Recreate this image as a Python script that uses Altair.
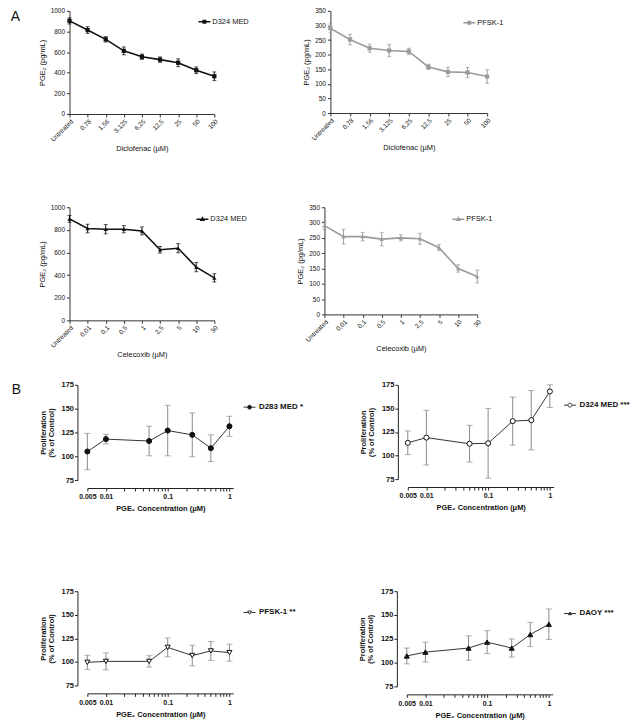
import altair as alt
import pandas as pd

FONT = "Liberation Sans"

# ---------------- Panel A data ----------------
dic_doses = ["Untreated", "0,78", "1,56", "3,125", "6,25", "12,5", "25", "50", "100"]
dic_d324_mean = [903, 814, 724, 612, 555, 527, 497, 424, 366]
dic_d324_err = [30, 32, 26, 38, 26, 26, 38, 32, 42]
dic_pfsk_mean = [290, 252, 222, 214, 211, 158, 141, 139, 125]
dic_pfsk_err = [15, 18, 14, 21, 11, 9, 16, 17, 23]

cel_doses = ["Untreated", "0,01", "0,1", "0,5", "1", "2,5", "5", "10", "30"]
cel_d324_mean = [897, 812, 806, 806, 791, 624, 638, 471, 376]
cel_d324_err = [30, 38, 41, 32, 35, 29, 40, 41, 37]
cel_pfsk_mean = [290, 254, 254, 246, 250, 247, 218, 150, 124]
cel_pfsk_err = [13, 24, 14, 22, 10, 18, 10, 12, 21]

# ---------------- Panel B data ----------------
pge_conc = [0.005, 0.01, 0.05, 0.1, 0.25, 0.5, 1]
d283_mean = [105, 118, 116, 127, 122.5, 108.5, 131.5]
d283_err = [19, 5, 15.5, 26.5, 23, 14, 10.5]
d324_mean = [113.5, 119, 112.5, 113, 136.5, 137.5, 168]
d324_err = [12.5, 29, 19.5, 37, 25.5, 31.5, 17]
pfsk_mean = [99.5, 100.5, 100.5, 115.4, 106.7, 111.6, 109.8]
pfsk_err = [7.5, 9, 6, 10, 11, 10, 9]
daoy_mean = [107, 111, 115.3, 121.5, 115.3, 129.5, 140.3]
daoy_err = [8.3, 10.4, 12.8, 12, 9.5, 12.7, 16]

# ---------------- tick lists ----------------
A_Y_D324 = [0, 200, 400, 600, 800, 1000]
A_Y_PFSK = [0, 50, 100, 150, 200, 250, 300, 350]
B_Y = [75, 100, 125, 150, 175]
B_MAJOR = [0.005, 0.01, 0.1, 1]
B_MINOR = [0.02, 0.03, 0.04, 0.05, 0.06, 0.07, 0.08, 0.09,
           0.2, 0.3, 0.4, 0.5, 0.6, 0.7, 0.8, 0.9]

BLACK = "#111111"
GRAY = "#9a9a9a"

SQ_PATH = "M-1,0L1,0M-0.2,-0.2L0.2,-0.2L0.2,0.2L-0.2,0.2Z"
TRI_PATH = "M-1,0L1,0M-0.25,0.2L0,-0.25L0.25,0.2Z"
CIRC_PATH = "M-1,0L-0.33,0M0.33,0L1,0M0.33,0A0.33,0.33,0,1,1,-0.33,0A0.33,0.33,0,1,1,0.33,0Z"
TRI_DOWN_PATH = "M-1,0L-0.3,0M0.3,0L1,0M-0.32,-0.25L0.32,-0.25L0,0.3Z"


def frame(x, mean, err, label):
    return pd.DataFrame({
        "x": x,
        "mean": mean,
        "lo": [m - e for m, e in zip(mean, err)],
        "hi": [m + e for m, e in zip(mean, err)],
        "series": [label] * len(x),
    })


def panel_a(doses, mean, err, label, color, shape, path, xtitle, yvals, w, h, lx, ly):
    df = frame(doses, mean, err, label)
    xenc = alt.X("x:N", sort=doses, scale=alt.Scale(type="point", padding=0),
                 axis=alt.Axis(title=xtitle, labelAngle=-45, labelAlign="right", labelBaseline="top",
                               labelFont=FONT, labelFontSize=6.5, labelColor=BLACK, labelPadding=1,
                               titleFont=FONT, titleFontSize=7.5, titleFontWeight="normal",
                               titleColor=BLACK, titlePadding=2, tickSize=3, domainColor="#333333",
                               tickColor="#333333", labelOverlap=False, grid=False))
    yscale = alt.Scale(domain=[0, yvals[-1]], nice=False)
    yaxis = alt.Axis(title="PGE₂ (pg/mL)", values=yvals, format="d", labelFont=FONT,
                     labelFontSize=6.5, labelColor=BLACK, labelPadding=2, titleFont=FONT,
                     titleFontSize=7.5, titleFontWeight="normal", titleColor=BLACK, titlePadding=4,
                     tickSize=3, domainColor="#333333", tickColor="#333333", grid=False)
    legend = alt.Legend(orient="none", legendX=lx, legendY=ly, title=None, symbolType=path,
                        symbolSize=144, symbolStrokeColor=color, symbolFillColor=color,
                        symbolStrokeWidth=1.5, labelFont=FONT, labelFontSize=7.5,
                        labelColor=BLACK, labelOffset=1, padding=0)
    bars = alt.Chart(df).mark_errorbar(ticks=True, size=4, thickness=1, color=color).encode(
        x=xenc, y=alt.Y("lo:Q", scale=yscale, axis=yaxis), y2="hi:Q")
    line = alt.Chart(df).mark_line(strokeWidth=1.6).encode(
        x=xenc, y=alt.Y("mean:Q", scale=yscale, axis=yaxis),
        color=alt.Color("series:N", scale=alt.Scale(range=[color]), legend=legend))
    pts = alt.Chart(df).mark_point(shape=shape, filled=True, size=18, color=color, opacity=1).encode(
        x=xenc, y=alt.Y("mean:Q", scale=yscale, axis=yaxis))
    return alt.layer(bars, line, pts).properties(width=w, height=h)


B_LEFT = 18   # gap between the view edge and the first concentration
B_W = 147     # length of the log axis


def panel_b(mean, err, label, shape, filled, path, h, lx, ly):
    df = frame(pge_conc, mean, err, label)
    tick_vals = sorted(B_MAJOR + B_MINOR)
    major = ",".join(str(v) for v in B_MAJOR)
    xenc = alt.X("x:Q", scale=alt.Scale(type="log", domain=[0.005, 1.15], nice=False,
                                        range=[B_LEFT, B_LEFT + B_W]),
                 axis=alt.Axis(title="PGE₂ Concentration (μM)", values=tick_vals, format="~g",
                               labelExpr=f"indexof([{major}], datum.value) >= 0 ? datum.label : ''",
                               labelFont=FONT, labelFontSize=7, labelFontWeight="bold",
                               labelColor=BLACK, labelOverlap=False, labelFlush=False, labelPadding=2,
                               titleFont=FONT, titleFontSize=7.5, titleFontWeight="bold",
                               titleColor=BLACK, titlePadding=5, tickSize=3, offset=8,
                               domainColor="#222222", tickColor="#222222", grid=False))
    yscale = alt.Scale(domain=[75, 175], nice=False, clamp=True)
    yaxis = alt.Axis(title=["Proliferation", "(% of Control)"], values=B_Y, labelFont=FONT,
                     labelFontSize=7.5, labelFontWeight="bold", labelColor=BLACK, labelPadding=1,
                     titleFont=FONT, titleFontSize=7.5, titleFontWeight="bold", titleColor=BLACK,
                     titlePadding=6, titleLineHeight=8, tickSize=3, offset=-8,
                     domainColor="#222222", tickColor="#222222", grid=False)
    fill = BLACK if filled else "white"
    legend = alt.Legend(orient="none", legendX=lx + B_LEFT, legendY=ly, title=None, symbolType=path,
                        symbolSize=144, symbolStrokeColor="#333333", symbolFillColor=fill,
                        symbolStrokeWidth=1, labelFont=FONT, labelFontSize=8, labelFontWeight="bold",
                        labelColor=BLACK, labelOffset=3, padding=0)
    bars = alt.Chart(df).mark_errorbar(ticks=True, size=6, thickness=1, color="#8a8a8a").encode(
        x=xenc, y=alt.Y("lo:Q", scale=yscale, axis=yaxis), y2="hi:Q")
    line = alt.Chart(df).mark_line(strokeWidth=1).encode(
        x=xenc, y=alt.Y("mean:Q", scale=yscale, axis=yaxis),
        color=alt.Color("series:N", scale=alt.Scale(range=["#333333"]), legend=legend))
    pts = alt.Chart(df).mark_point(shape=shape, filled=True, fill=fill, stroke=BLACK,
                                   strokeWidth=1, size=26, opacity=1).encode(
        x=xenc, y=alt.Y("mean:Q", scale=yscale, axis=yaxis))
    return alt.layer(bars, line, pts).properties(width=B_LEFT + B_W, height=h)


a1l = panel_a(dic_doses, dic_d324_mean, dic_d324_err, "D324 MED", BLACK, "square", SQ_PATH,
              "Diclofenac (µM)", A_Y_D324, 146, 104, 129, 4)
a1r = panel_a(dic_doses, dic_pfsk_mean, dic_pfsk_err, "PFSK-1", GRAY, "square", SQ_PATH,
              "Diclofenac (µM)", A_Y_PFSK, 158, 103, 133, 5)
a2l = panel_a(cel_doses, cel_d324_mean, cel_d324_err, "D324 MED", BLACK, "triangle-up", TRI_PATH,
              "Celecoxib (µM)", A_Y_D324, 146, 114, 127, 5)
a2r = panel_a(cel_doses, cel_pfsk_mean, cel_pfsk_err, "PFSK-1", GRAY, "triangle-up", TRI_PATH,
              "Celecoxib (µM)", A_Y_PFSK, 154, 108, 128, 5)

b1l = panel_b(d283_mean, d283_err, "D283 MED *", "circle", True, CIRC_PATH, 96, 157, 16)
b1r = panel_b(d324_mean, d324_err, "D324 MED ***", "circle", False, CIRC_PATH, 95, 157, 14)
b2l = panel_b(pfsk_mean, pfsk_err, "PFSK-1 **", "triangle-down", False, TRI_DOWN_PATH, 95, 157, 15)
b2r = panel_b(daoy_mean, daoy_err, "DAOY ***", "triangle-up", True, TRI_PATH, 96, 158, 16)

letter = dict(orient="left", anchor="end", angle=0, baseline="top", fontSize=14,
              font=FONT, fontWeight="normal", color=BLACK, offset=9, dy=2)


def row(left, right, sp):
    return alt.hconcat(left, right, spacing=sp).resolve_scale(color="independent")


groupA = alt.concat(
    row(a1l, a1r, 54),
    row(a2l, a2r, 50),
    columns=1, spacing=52, align="none",
    title=alt.TitleParams("A", **letter),
).resolve_scale(color="independent")
groupB = alt.concat(
    row(b1l, b1r, 56),
    row(b2l, b2r, 63),
    columns=1, spacing=75, align="none",
    title=alt.TitleParams("B", **letter),
).resolve_scale(color="independent")

chart = alt.concat(groupA, groupB, columns=1, spacing=22, align="none").resolve_scale(
    color="independent"
).properties(
    padding={"left": 2, "top": -3, "right": 0, "bottom": 0}
).configure_view(stroke=None).configure_axis(grid=False)

chart.save("out.html", embed_options={"renderer": "svg", "actions": False})
